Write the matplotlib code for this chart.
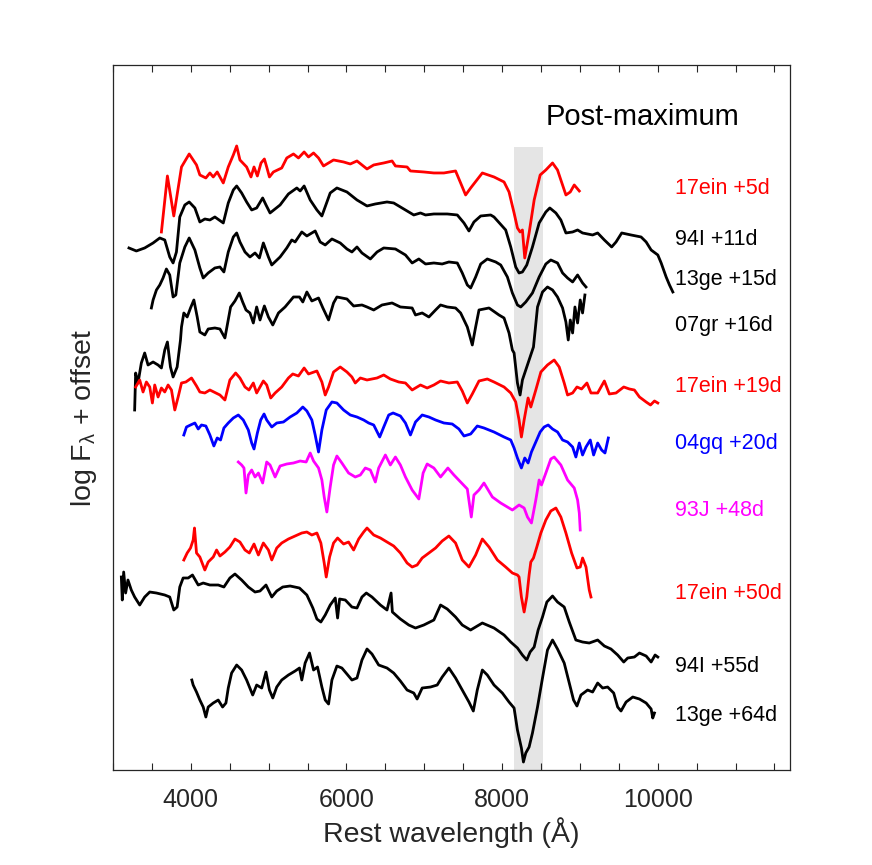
import matplotlib
matplotlib.use("Agg")
import matplotlib.pyplot as plt
from matplotlib.ticker import MultipleLocator

plt.rcParams['font.family'] = ['Liberation Sans', 'DejaVu Sans']
plt.rcParams['mathtext.fontset'] = 'custom'
plt.rcParams['mathtext.rm'] = 'Liberation Sans'
plt.rcParams['mathtext.it'] = 'Liberation Sans'
plt.rcParams['mathtext.sf'] = 'Liberation Sans'

# spectra (rest wavelength in A, log flux + offset)
wl_17ein_5 = [3622, 3699, 3781, 3880, 3979, 4073, 4116, 4193, 4245, 4288, 4339, 4417, 4481, 4546, 4589,
              4631, 4717, 4773, 4812, 4855, 4902, 4945, 4975, 5010, 5061, 5168, 5233, 5319, 5383, 5456,
              5512, 5577, 5641, 5705, 5834, 5963, 6049, 6135, 6264, 6350, 6479, 6586, 6629, 6779, 6822,
              6994, 7123, 7252, 7402, 7467, 7531, 7596, 7746, 7896, 8025, 8089, 8154, 8197, 8231, 8261,
              8291, 8347, 8412, 8489, 8562, 8648, 8712, 8755, 8820, 8876, 8927, 8992]
fl_17ein_5 = [5.38, 5.94, 5.54, 6.03, 6.16, 6.05, 5.95, 5.92, 5.97, 5.93, 5.98, 5.87, 6.03, 6.15, 6.24,
              6.10, 6.03, 5.93, 6.03, 5.94, 6.07, 6.11, 6.03, 5.93, 5.98, 6.02, 6.12, 6.16, 6.12, 6.18,
              6.13, 6.17, 6.12, 6.04, 6.10, 6.08, 6.06, 6.09, 6.01, 6.05, 6.07, 6.09, 6.04, 6.03, 5.99,
              5.98, 5.97, 5.97, 5.99, 5.87, 5.75, 5.82, 5.97, 5.93, 5.88, 5.78, 5.57, 5.42, 5.38, 5.40,
              5.12, 5.37, 5.70, 5.95, 6.00, 6.07, 6.00, 5.90, 5.75, 5.78, 5.85, 5.79]

wl_94I_11 = [3205, 3300, 3407, 3515, 3601, 3665, 3729, 3772, 3815, 3858, 3923, 3979, 4052, 4116, 4180,
             4245, 4309, 4417, 4481, 4546, 4589, 4653, 4717, 4782, 4846, 4923, 4966, 5018, 5147, 5254,
             5362, 5405, 5456, 5534, 5620, 5684, 5791, 5877, 6006, 6135, 6264, 6371, 6521, 6607, 6736,
             6865, 6951, 7016, 7123, 7295, 7424, 7510, 7574, 7638, 7725, 7853, 7896, 8046, 8111, 8175,
             8218, 8261, 8317, 8390, 8476, 8562, 8613, 8691, 8755, 8820, 8906, 8970, 9034, 9163, 9228,
             9314, 9408, 9464, 9537, 9657, 9786, 9851, 9915, 10001, 10044, 10108, 10151, 10194]
fl_94I_11 = [5.22, 5.19, 5.22, 5.27, 5.32, 5.30, 5.13, 5.07, 5.18, 5.53, 5.65, 5.68, 5.62, 5.48, 5.51,
             5.50, 5.53, 5.47, 5.67, 5.80, 5.84, 5.77, 5.68, 5.60, 5.62, 5.72, 5.65, 5.57, 5.65, 5.76,
             5.82, 5.79, 5.84, 5.70, 5.60, 5.54, 5.77, 5.82, 5.78, 5.70, 5.64, 5.66, 5.68, 5.67, 5.61,
             5.55, 5.57, 5.55, 5.56, 5.56, 5.55, 5.47, 5.39, 5.48, 5.54, 5.55, 5.53, 5.40, 5.23, 5.03,
             4.97, 4.98, 5.05, 5.23, 5.47, 5.58, 5.62, 5.57, 5.50, 5.37, 5.38, 5.40, 5.37, 5.35, 5.37,
             5.30, 5.23, 5.28, 5.37, 5.35, 5.33, 5.28, 5.20, 5.15, 5.07, 4.93, 4.85, 4.78]

wl_13ge_15 = [3493, 3515, 3558, 3601, 3643, 3686, 3729, 3772, 3807, 3858, 3923, 3979, 4052, 4116, 4159,
              4223, 4309, 4374, 4425, 4481, 4546, 4589, 4631, 4696, 4760, 4825, 4881, 4932, 4997, 5040,
              5147, 5233, 5297, 5340, 5426, 5491, 5555, 5598, 5662, 5727, 5813, 5920, 6006, 6070, 6135,
              6199, 6307, 6393, 6479, 6629, 6758, 6844, 6930, 7016, 7123, 7230, 7316, 7424, 7488, 7553,
              7596, 7660, 7725, 7810, 7918, 7982, 8068, 8132, 8197, 8240, 8304, 8390, 8476, 8562, 8626,
              8712, 8777, 8841, 8906, 8970, 9034, 9078]
fl_13ge_15 = [4.62, 4.70, 4.80, 4.85, 4.92, 5.01, 4.95, 4.73, 4.75, 5.07, 5.23, 5.32, 5.20, 5.02, 4.92,
              4.97, 5.02, 5.03, 4.98, 5.18, 5.33, 5.37, 5.28, 5.18, 5.13, 5.17, 5.12, 5.27, 5.13, 5.05,
              5.13, 5.22, 5.30, 5.28, 5.38, 5.34, 5.37, 5.39, 5.28, 5.25, 5.31, 5.27, 5.21, 5.18, 5.23,
              5.17, 5.11, 5.18, 5.22, 5.21, 5.15, 5.07, 5.11, 5.06, 5.07, 5.06, 5.08, 5.07, 4.97, 4.85,
              4.82, 4.93, 5.06, 5.11, 5.08, 5.05, 4.93, 4.77, 4.65, 4.63, 4.68, 4.77, 4.93, 5.06, 5.10,
              5.07, 4.97, 4.92, 4.88, 4.95, 4.87, 4.83]

wl_07gr_16 = [3278, 3291, 3321, 3364, 3407, 3450, 3515, 3579, 3622, 3665, 3699, 3738, 3772, 3824, 3867,
              3880, 3910, 3953, 3996, 4039, 4082, 4116, 4180, 4223, 4309, 4374, 4438, 4511, 4567, 4623,
              4666, 4709, 4760, 4803, 4846, 4889, 4945, 4997, 5053, 5126, 5211, 5319, 5396, 5439, 5491,
              5555, 5641, 5697, 5770, 5834, 5877, 6006, 6092, 6199, 6264, 6350, 6457, 6586, 6693, 6844,
              6887, 6973, 7059, 7145, 7209, 7295, 7402, 7467, 7553, 7617, 7660, 7703, 7832, 7960, 8025,
              8089, 8132, 8154, 8197, 8231, 8261, 8304, 8347, 8403, 8455, 8519, 8583, 8648, 8712, 8777,
              8820, 8850, 8876, 8906, 8936, 8970, 9004, 9034, 9064]
fl_07gr_16 = [3.60, 3.97, 3.87, 4.07, 4.17, 4.05, 4.08, 4.05, 4.02, 4.20, 4.28, 4.03, 3.93, 4.03, 4.30,
              4.43, 4.57, 4.53, 4.62, 4.70, 4.53, 4.38, 4.35, 4.41, 4.42, 4.41, 4.32, 4.63, 4.69, 4.77,
              4.68, 4.60, 4.57, 4.47, 4.63, 4.50, 4.64, 4.53, 4.45, 4.57, 4.63, 4.73, 4.73, 4.68, 4.78,
              4.69, 4.72, 4.62, 4.50, 4.67, 4.73, 4.71, 4.64, 4.65, 4.63, 4.60, 4.65, 4.67, 4.63, 4.62,
              4.55, 4.57, 4.53, 4.60, 4.65, 4.63, 4.62, 4.57, 4.43, 4.25, 4.43, 4.60, 4.62, 4.55, 4.52,
              4.37, 4.20, 4.17, 3.87, 3.75, 3.90, 4.00, 4.10, 4.23, 4.63, 4.78, 4.83, 4.80, 4.73, 4.62,
              4.48, 4.30, 4.50, 4.37, 4.63, 4.47, 4.70, 4.57, 4.75]

wl_17ein_19 = [3291, 3343, 3386, 3429, 3472, 3506, 3536, 3579, 3622, 3665, 3708, 3751, 3794, 3837, 3880,
               3936, 4009, 4073, 4116, 4180, 4245, 4322, 4374, 4438, 4502, 4576, 4631, 4696, 4747, 4803,
               4846, 4889, 4932, 4975, 5027, 5083, 5168, 5254, 5310, 5383, 5456, 5512, 5620, 5684, 5727,
               5770, 5834, 5920, 6006, 6070, 6113, 6178, 6264, 6393, 6479, 6564, 6672, 6758, 6844, 6951,
               7037, 7123, 7209, 7316, 7424, 7488, 7553, 7617, 7703, 7810, 7896, 8025, 8111, 8175, 8218,
               8248, 8283, 8334, 8369, 8433, 8498, 8583, 8669, 8734, 8798, 8841, 8906, 8962, 9021, 9090,
               9142, 9228, 9314, 9378, 9464, 9563, 9636, 9700, 9765, 9851, 9907, 9958, 10001]
fl_17ein_19 = [3.83, 3.90, 3.78, 3.88, 3.83, 3.67, 3.85, 3.73, 3.82, 3.78, 3.85, 3.80, 3.60, 3.73, 3.87,
               3.88, 3.92, 3.84, 3.78, 3.77, 3.80, 3.77, 3.75, 3.70, 3.90, 3.97, 3.92, 3.83, 3.80, 3.87,
               3.77, 3.83, 3.89, 3.85, 3.72, 3.77, 3.83, 3.92, 3.96, 3.94, 4.02, 3.96, 3.99, 3.88, 3.75,
               3.83, 3.98, 4.03, 3.98, 3.93, 3.87, 3.92, 3.90, 3.92, 3.95, 3.91, 3.88, 3.87, 3.80, 3.85,
               3.82, 3.85, 3.89, 3.87, 3.88, 3.79, 3.67, 3.76, 3.89, 3.91, 3.88, 3.83, 3.77, 3.68, 3.50,
               3.33, 3.50, 3.72, 3.63, 3.80, 3.98, 4.05, 4.10, 4.03, 3.87, 3.75, 3.77, 3.83, 3.81, 3.87,
               3.77, 3.77, 3.89, 3.76, 3.77, 3.83, 3.81, 3.80, 3.73, 3.68, 3.65, 3.69, 3.67]

wl_04gq_20 = [3910, 3944, 3996, 4052, 4095, 4137, 4193, 4245, 4296, 4339, 4382, 4425, 4481, 4546, 4610,
              4674, 4739, 4782, 4812, 4855, 4898, 4941, 4975, 5040, 5104, 5190, 5276, 5362, 5439, 5491,
              5555, 5598, 5641, 5684, 5740, 5813, 5877, 5963, 6049, 6135, 6221, 6285, 6350, 6427, 6479,
              6543, 6599, 6693, 6758, 6822, 6887, 6973, 7059, 7145, 7252, 7359, 7445, 7510, 7596, 7681,
              7767, 7896, 8025, 8111, 8154, 8197, 8248, 8291, 8334, 8377, 8433, 8489, 8540, 8592, 8648,
              8712, 8777, 8841, 8906, 8948, 8992, 9034, 9078, 9133, 9176, 9228, 9279, 9322, 9365]
fl_04gq_20 = [3.35, 3.43, 3.45, 3.47, 3.41, 3.45, 3.44, 3.35, 3.24, 3.32, 3.30, 3.42, 3.47, 3.52, 3.55,
              3.50, 3.40, 3.27, 3.21, 3.37, 3.50, 3.56, 3.50, 3.43, 3.47, 3.48, 3.53, 3.57, 3.63, 3.59,
              3.50, 3.35, 3.18, 3.40, 3.60, 3.68, 3.67, 3.60, 3.55, 3.53, 3.50, 3.47, 3.45, 3.33, 3.43,
              3.55, 3.57, 3.54, 3.47, 3.35, 3.48, 3.55, 3.53, 3.50, 3.47, 3.46, 3.41, 3.34, 3.36, 3.44,
              3.42, 3.38, 3.33, 3.30, 3.22, 3.12, 3.02, 3.12, 3.07, 3.18, 3.28, 3.38, 3.43, 3.45, 3.41,
              3.38, 3.30, 3.28, 3.23, 3.13, 3.27, 3.15, 3.23, 3.30, 3.15, 3.27, 3.20, 3.17, 3.32]

wl_93J_48 = [4610, 4653, 4683, 4709, 4739, 4782, 4825, 4868, 4923, 4975, 5018, 5083, 5147, 5233, 5319,
             5405, 5482, 5534, 5577, 5641, 5684, 5714, 5748, 5791, 5834, 5877, 5941, 6027, 6113, 6178,
             6242, 6307, 6371, 6414, 6500, 6564, 6629, 6693, 6758, 6844, 6930, 6985, 7037, 7123, 7209,
             7303, 7381, 7467, 7553, 7604, 7638, 7703, 7767, 7875, 7982, 8132, 8218, 8283, 8326, 8377,
             8433, 8476, 8506, 8562, 8626, 8669, 8755, 8841, 8927, 8970, 8992, 9004]
fl_93J_48 = [3.08, 3.05, 3.02, 2.77, 2.95, 3.00, 2.93, 2.97, 2.87, 3.08, 3.05, 2.93, 3.04, 3.06, 3.07,
             3.09, 3.08, 3.17, 3.09, 3.02, 2.90, 2.73, 2.58, 2.83, 3.05, 3.14, 3.07, 2.97, 2.93, 2.95,
             3.02, 3.00, 2.88, 3.02, 3.15, 3.05, 3.13, 3.05, 2.93, 2.80, 2.71, 2.97, 3.06, 3.02, 2.93,
             3.02, 2.95, 2.88, 2.81, 2.53, 2.75, 2.80, 2.87, 2.73, 2.67, 2.60, 2.65, 2.62, 2.53, 2.47,
             2.70, 2.90, 2.85, 2.97, 3.11, 3.13, 3.05, 2.90, 2.82, 2.70, 2.57, 2.40]

wl_17ein_50 = [3910, 3953, 3996, 4030, 4047, 4073, 4116, 4180, 4223, 4288, 4331, 4374, 4438, 4502, 4567,
               4631, 4696, 4752, 4812, 4868, 4932, 4997, 5040, 5104, 5168, 5254, 5340, 5426, 5491, 5555,
               5620, 5671, 5714, 5740, 5783, 5834, 5886, 5963, 6027, 6092, 6157, 6221, 6264, 6350, 6436,
               6521, 6607, 6693, 6779, 6844, 6908, 6973, 7059, 7145, 7230, 7316, 7402, 7488, 7574, 7660,
               7746, 7832, 7939, 8046, 8132, 8197, 8218, 8248, 8283, 8317, 8347, 8369, 8403, 8446, 8498,
               8562, 8626, 8691, 8755, 8820, 8893, 8962, 9004, 9034, 9078, 9107, 9120, 9142]
fl_17ein_50 = [2.10, 2.17, 2.22, 2.30, 2.42, 2.17, 2.13, 2.00, 2.08, 2.13, 2.20, 2.14, 2.18, 2.23, 2.31,
               2.28, 2.20, 2.17, 2.26, 2.15, 2.27, 2.20, 2.10, 2.22, 2.27, 2.31, 2.34, 2.37, 2.38, 2.35,
               2.37, 2.27, 2.07, 1.93, 2.13, 2.27, 2.32, 2.26, 2.28, 2.20, 2.31, 2.38, 2.42, 2.35, 2.32,
               2.28, 2.24, 2.17, 2.07, 2.03, 2.05, 2.12, 2.17, 2.22, 2.29, 2.34, 2.27, 2.10, 2.03, 2.15,
               2.31, 2.23, 2.10, 2.03, 1.97, 1.95, 1.93, 1.73, 1.58, 1.73, 1.95, 2.08, 2.12, 2.23, 2.37,
               2.50, 2.59, 2.62, 2.53, 2.37, 2.17, 2.02, 2.03, 2.12, 2.03, 1.87, 1.80, 1.73]

wl_94I_55 = [3107, 3119, 3137, 3162, 3192, 3235, 3278, 3343, 3407, 3472, 3558, 3665, 3729, 3781, 3824,
             3858, 3901, 3966, 4021, 4095, 4159, 4245, 4352, 4425, 4502, 4567, 4653, 4739, 4825, 4889,
             4966, 5040, 5104, 5181, 5276, 5396, 5491, 5568, 5620, 5671, 5727, 5791, 5856, 5886, 5912,
             5985, 6070, 6135, 6199, 6255, 6328, 6436, 6521, 6573, 6590, 6693, 6801, 6887, 6994, 7123,
             7209, 7295, 7402, 7488, 7595, 7746, 7896, 8025, 8111, 8197, 8261, 8317, 8360, 8412, 8463,
             8519, 8575, 8648, 8712, 8798, 8863, 8948, 9034, 9120, 9228, 9314, 9399, 9485, 9563, 9614,
             9700, 9765, 9851, 9915, 9966, 10001]
fl_94I_55 = [1.93, 1.70, 1.98, 1.77, 1.90, 1.80, 1.73, 1.65, 1.73, 1.78, 1.77, 1.75, 1.73, 1.60, 1.63,
             1.83, 1.92, 1.92, 1.95, 1.85, 1.87, 1.85, 1.85, 1.83, 1.92, 1.96, 1.90, 1.83, 1.78, 1.79,
             1.85, 1.73, 1.79, 1.83, 1.84, 1.82, 1.75, 1.62, 1.51, 1.48, 1.55, 1.65, 1.72, 1.52, 1.71,
             1.70, 1.63, 1.62, 1.73, 1.77, 1.73, 1.65, 1.60, 1.77, 1.58, 1.51, 1.45, 1.42, 1.45, 1.50,
             1.65, 1.61, 1.53, 1.45, 1.40, 1.47, 1.42, 1.35, 1.28, 1.22, 1.15, 1.10, 1.18, 1.23, 1.40,
             1.53, 1.68, 1.74, 1.68, 1.63, 1.48, 1.30, 1.28, 1.27, 1.30, 1.24, 1.21, 1.15, 1.08, 1.12,
             1.13, 1.17, 1.14, 1.08, 1.15, 1.13]

wl_13ge_64 = [4013, 4030, 4073, 4116, 4159, 4193, 4223, 4288, 4352, 4408, 4451, 4481, 4524, 4589, 4653,
              4717, 4795, 4846, 4911, 4966, 5010, 5053, 5104, 5168, 5254, 5340, 5396, 5426, 5469, 5525,
              5577, 5628, 5684, 5727, 5770, 5813, 5877, 5941, 6006, 6070, 6135, 6199, 6264, 6328, 6414,
              6521, 6607, 6693, 6779, 6865, 6908, 6973, 7080, 7166, 7230, 7316, 7402, 7488, 7574, 7630,
              7681, 7746, 7810, 7896, 8003, 8089, 8154, 8197, 8248, 8274, 8304, 8347, 8390, 8455, 8519,
              8583, 8648, 8712, 8798, 8863, 8918, 8962, 9013, 9099, 9163, 9228, 9292, 9356, 9434, 9485,
              9528, 9593, 9679, 9765, 9851, 9915, 9936, 9958]
fl_13ge_64 = [0.90, 0.85, 0.78, 0.70, 0.63, 0.53, 0.63, 0.67, 0.70, 0.63, 0.67, 0.82, 0.97, 1.05, 1.00,
              0.90, 0.75, 0.85, 0.82, 0.98, 0.80, 0.72, 0.83, 0.90, 0.95, 0.99, 1.02, 0.90, 1.07, 1.17,
              1.00, 1.03, 0.83, 0.70, 0.66, 0.90, 1.04, 1.02, 0.96, 0.90, 0.92, 1.10, 1.21, 1.16, 1.05,
              1.02, 0.97, 0.89, 0.80, 0.77, 0.71, 0.82, 0.83, 0.85, 0.93, 1.02, 0.92, 0.80, 0.68, 0.59,
              0.80, 1.00, 0.95, 0.85, 0.77, 0.68, 0.62, 0.40, 0.22, 0.08, 0.17, 0.23, 0.37, 0.63, 0.92,
              1.20, 1.30, 1.21, 1.07, 0.87, 0.70, 0.64, 0.75, 0.80, 0.78, 0.87, 0.82, 0.83, 0.77, 0.63,
              0.59, 0.68, 0.73, 0.71, 0.67, 0.61, 0.52, 0.57]

labels = ['17ein +5d', '94I +11d', '13ge +15d', '07gr +16d', '17ein +19d',
          '04gq +20d', '93J +48d', '17ein +50d', '94I +55d', '13ge +64d']
label_y = [5.81, 5.30, 4.90, 4.44, 3.83, 3.26, 2.60, 1.77, 1.04, 0.55]
colors = ['#ff0000', 'k', 'k', 'k', '#ff0000', '#0000ff', '#ff00ff', '#ff0000', 'k', 'k']

waves = [wl_17ein_5, wl_94I_11, wl_13ge_15, wl_07gr_16, wl_17ein_19,
         wl_04gq_20, wl_93J_48, wl_17ein_50, wl_94I_55, wl_13ge_64]
fluxes = [fl_17ein_5, fl_94I_11, fl_13ge_15, fl_07gr_16, fl_17ein_19,
          fl_04gq_20, fl_93J_48, fl_17ein_50, fl_94I_55, fl_13ge_64]

band = [8150, 8520]
band_top = 6.23

fig = plt.figure(figsize=(8.72, 8.65), dpi=100)
ax = fig.add_axes([0.1296, 0.1098, 0.7764, 0.8151])

ax.fill_between(band, 0, band_top, color='#e5e5e5', lw=0, zorder=0)

for w, f, c in zip(waves, fluxes, colors):
    ax.plot(w, f, color=c, lw=2.0, zorder=2)

for lab, yy, c in zip(labels, label_y, colors):
    ax.text(10220, yy, lab, color=c, fontsize=15.5, va='center', ha='left')

ax.text(9800, 6.53, 'Post-maximum', fontsize=21, ha='center', va='center', color='k')

ax.set_xlim(3000, 11700)
ax.set_ylim(0, 7.05)
ax.xaxis.set_major_locator(MultipleLocator(2000))
ax.xaxis.set_minor_locator(MultipleLocator(500))
ax.set_xticks([4000, 6000, 8000, 10000])
ax.set_yticks([])
ax.tick_params(axis='x', which='both', direction='in', top=True, length=5,
               width=0.8, color='#262626', labelsize=18, labelcolor='#262626', pad=13)
for s in ax.spines.values():
    s.set_color('#262626')
    s.set_linewidth(0.9)

ax.set_xlabel('Rest wavelength (Å)', fontsize=20.5, color='#262626', labelpad=4)
ax.set_ylabel(r'log F$_\lambda$ + offset', fontsize=20.5, color='#262626', labelpad=10)

fig.savefig('out.png', dpi=100)
